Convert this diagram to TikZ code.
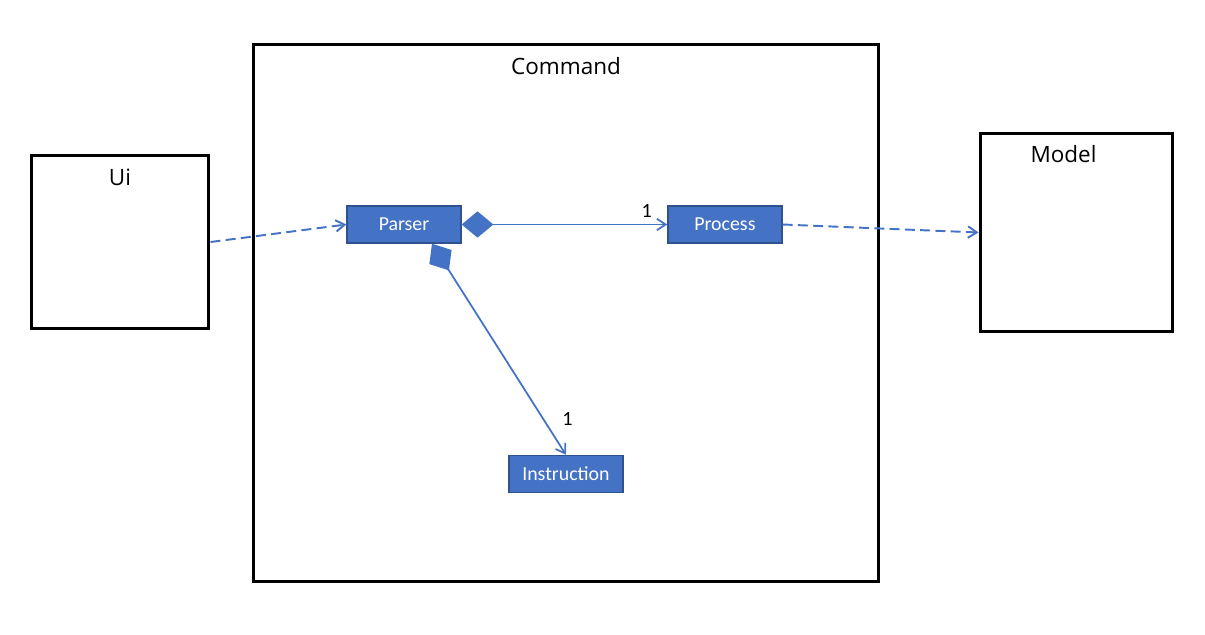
\documentclass[tikz,border=0pt]{standalone}
\usepackage{fontspec}
\setmainfont{Carlito}
\newfontfamily\pkgfont{Open Sans}
\usetikzlibrary{arrows.meta, positioning}
\definecolor{uml}{HTML}{4472C4}
\definecolor{umlborder}{HTML}{2F528F}

\begin{document}
\begin{tikzpicture}[x=0.02cm, y=-0.02cm, on grid,
    pkg/.style={draw=black, line width=1.7pt, rectangle},
    pkgname/.style={font=\pkgfont\fontsize{12.8}{15}\selectfont},
    cls/.style={draw=umlborder, fill=uml, line width=0.8pt, text=white,
                minimum width=2.28cm, minimum height=0.74cm,
                font=\fontsize{11.3}{13}\selectfont},
    dep/.style={draw=uml, line width=1.1pt, dash pattern=on 5.7pt off 3pt,
                -{Straight Barb[length=5pt,width=6.5pt]}},
    comp/.style={draw=uml, line width=1pt,
                 {Diamond[length=18pt,width=15pt,fill=uml]}-{Straight Barb[length=5pt,width=6.5pt]}},
    mult/.style={font=\fontsize{11.5}{13}\selectfont}]
    \useasboundingbox (0,0) rectangle (1205,635);
           % packages
           \node[pkg, minimum width=3.56cm, minimum height=3.48cm](ui) at (120,242){};
           \node[pkg, minimum width=12.52cm, minimum height=10.76cm](command) at (566,313){};
           \node[pkg, minimum width=3.86cm, minimum height=3.98cm](model) at (1076.5,232.5){};
           \node[pkgname](ui_name) at ([yshift=-0.47cm]ui.north){Ui};
           \node[pkgname](command_name) at ([yshift=-0.48cm]command.north){Command};
           \node[pkgname](model_name) at ([xshift=-0.26cm, yshift=-0.46cm]model.north){Model};
           % classes
           \node[cls](parser) at (404,224.5){Parser};
           \node[cls](process)[right=6.42cm of parser]{Process};
           \node[cls](instruction)[below right=4.99cm and 3.24cm of parser]{Instruction};
           \path
           (ui.east)        edge[dep] (parser.west)
           (process.east)   edge[dep] (model.west)
           (parser.east)    edge[comp] node[mult, pos=0.9, above] {1} (process.west)
           ([xshift=0.56cm]parser.south) edge[comp] node[mult, pos=0.83, right=0.25cm] {1} (instruction.north);
        \end{tikzpicture}
\end{document}
